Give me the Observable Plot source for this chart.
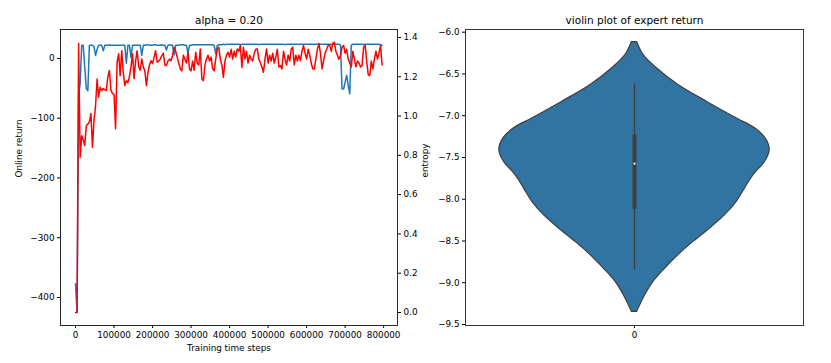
<!DOCTYPE html>
<html><head><meta charset="utf-8">
<script src="https://cdn.jsdelivr.net/npm/d3@7"></script>
<script src="https://cdn.jsdelivr.net/npm/@observablehq/plot@0.6"></script>
<style>
body{margin:0;background:#fff;}
#wrap{position:relative;width:831px;height:363px;overflow:hidden;background:#fff;}
#wrap svg{position:absolute;top:0;overflow:visible;}
</style></head><body><div id="wrap"></div>
<script>
// ---------- data ----------
const stepSize = 4000;
const onlineReturn = [
-377,-425,-60,-42,22,22,-15,-50,-54,22,
22,22,20,5,15,22,22,22,13,22,
22,22,23,22,22,22,22,22,22,22,
22,22,22,-8,22,22,2,22,22,22,
22,22,22,5,22,22,23,23,22,22,
22,23,23,22,22,22,23,22,22,14,
22,23,22,22,6,22,22,22,23,23,
23,22,22,8,22,22,23,23,23,23,
23,23,23,23,23,23,23,23,23,23,
22,8,22,23,23,23,24,23,24,24,
24,24,24,24,24,24,24,23,24,24,
24,24,24,24,24,24,24,24,24,23,
24,24,24,24,24,24,24,24,24,24,
24,24,24,24,24,24,23,24,24,24,
24,24,24,24,24,24,24,24,24,24,
24,24,24,24,24,24,24,24,24,24,
24,24,24,24,24,24,24,24,24,24,
24,24,22,-51,-51,-40,-28,-45,-59,22,
24,24,24,24,24,24,24,23,24,24,
24,24,24,24,24,24,24,24,23,22];
const entropy = [
0,0,1.369,0.79,0.90,0.88,0.85,0.95,0.96,0.97,
1.013,0.841,0.98,1.05,1.189,1.096,1.147,1.13,1.14,1.135,
1.13,1.20,1.232,1.13,1.115,1.11,0.935,1.274,1.317,1.206,
1.333,1.22,1.155,1.18,1.17,1.20,1.25,1.317,1.19,1.28,
1.333,1.25,1.233,1.29,1.25,1.23,1.155,1.22,1.26,1.282,
1.267,1.30,1.333,1.274,1.28,1.29,1.308,1.32,1.26,1.257,
1.28,1.29,1.282,1.31,1.35,1.33,1.30,1.27,1.24,1.23,
1.31,1.29,1.27,1.325,1.24,1.23,1.28,1.233,1.325,1.27,
1.26,1.342,1.19,1.18,1.26,1.29,1.31,1.28,1.30,1.242,
1.23,1.29,1.34,1.35,1.29,1.26,1.197,1.28,1.31,1.325,
1.30,1.34,1.29,1.33,1.30,1.342,1.33,1.359,1.248,1.35,
1.29,1.33,1.27,1.31,1.29,1.28,1.32,1.34,1.342,1.29,
1.27,1.25,1.223,1.29,1.342,1.27,1.31,1.28,1.32,1.27,
1.30,1.34,1.25,1.257,1.24,1.33,1.29,1.26,1.31,1.28,
1.34,1.35,1.26,1.31,1.28,1.31,1.282,1.33,1.359,1.32,
1.29,1.34,1.31,1.27,1.24,1.24,1.29,1.34,1.369,1.32,
1.24,1.28,1.32,1.34,1.36,1.36,1.33,1.37,1.376,1.33,
1.31,1.29,1.31,1.35,1.36,1.32,1.34,1.29,1.27,1.25,
1.33,1.29,1.25,1.28,1.27,1.25,1.257,1.35,1.36,1.28,
1.21,1.206,1.28,1.24,1.29,1.33,1.29,1.32,1.36,1.26];
const stepTicks = [0,100000,200000,300000,400000,500000,600000,700000,800000];
const returnTicks = [-400,-300,-200,-100,0];
const entropyTicks = [0,0.2,0.4,0.6,0.8,1.0,1.2,1.4];

// violin profile: value and relative half-width
const violinValue = [-6.12,-6.16,-6.272,-6.432,-6.632,-6.832,-7.031,-7.151,-7.271,-7.411,-7.552,-7.711,-7.870,-8.031,-8.191,-8.350,-8.511,-8.670,-8.830,-8.990,-9.150,-9.270,-9.31,-9.35];
const violinHalfWidth = [0.02,0.03,0.066,0.165,0.325,0.534,0.754,0.892,0.970,1.0,0.966,0.880,0.818,0.756,0.670,0.559,0.436,0.325,0.227,0.140,0.079,0.042,0.03,0.02];
const boxQ1 = -8.12, boxQ3 = -7.23, boxMedian = -7.575, whiskerLow = -8.85, whiskerHigh = -6.62;
const violinTicks = [-9.5,-9.0,-8.5,-8.0,-7.5,-7.0,-6.5,-6.0];
const violinCategories = [0];

const leftTitle = "alpha = 0.20";
const leftXLabel = "Training time steps";
const leftYLabel = "Online return";
const rightTitle = "violin plot of expert return";
const rightYLabel = "entropy";

// ---------- tables ----------
const returnData = onlineReturn.map((v, i) => ({step: i * stepSize, value: v}));
const entropyData = entropy.map((v, i) => ({step: i * stepSize, value: v}));
const violin = violinValue.map((v, i) => ({v, w: violinHalfWidth[i]}));

const style = {fontFamily: "DejaVu Sans", fontSize: "8.8px", color: "#000", background: "transparent", overflow: "visible"};
const dims = {width: 420, height: 363, marginLeft: 60, marginRight: 23, marginTop: 29, marginBottom: 38};
const xDomain = [-39000, 836000];
const fmtInt = d3.format("d");

const leftBase = Plot.plot({
  ...dims, style,
  x: {domain: xDomain},
  y: {domain: [-446.9, 48.5]},
  marks: [
    Plot.line(returnData, {x: "step", y: "value", stroke: "#1f77b4", strokeWidth: 1.5}),
    Plot.frame({stroke: "#111", strokeWidth: 0.9}),
    Plot.axisX({ticks: stepTicks, tickSize: 3, tickPadding: 3, tickFormat: fmtInt, label: null}),
    Plot.axisY({anchor: "left", ticks: returnTicks, tickSize: 3, tickPadding: 3, tickFormat: fmtInt, label: null}),
    Plot.text([leftTitle], {text: d => d, frameAnchor: "top", dy: -9, fontSize: 10.5, lineAnchor: "middle"}),
    Plot.text([leftXLabel], {text: d => d, frameAnchor: "bottom", dy: 23, lineAnchor: "middle"}),
    Plot.text([leftYLabel], {text: d => d, frameAnchor: "left", dx: -41, rotate: -90, lineAnchor: "middle"})
  ]
});
leftBase.style.left = "0px";

const leftTwin = Plot.plot({
  ...dims, style,
  x: {domain: xDomain, axis: null},
  y: {domain: [-0.0662, 1.4407]},
  marks: [
    Plot.line(entropyData, {x: "step", y: "value", stroke: "#ff0000", strokeWidth: 1.5}),
    Plot.axisY({anchor: "right", ticks: entropyTicks, tickSize: 3, tickPadding: 3, tickFormat: d3.format(".1f"), label: null})
  ]
});
leftTwin.style.left = "0px";

const right = Plot.plot({
  width: 411, height: 363, marginLeft: 45, marginRight: 28, marginTop: 29, marginBottom: 38,
  style,
  x: {domain: [-0.5, 0.5]},
  y: {domain: [-9.512, -5.968]},
  marks: [
    Plot.areaX(violin, {y: "v", x1: d => -0.4 * d.w, x2: d => 0.4 * d.w, fill: "#3274a1", stroke: "#3f3f3f", strokeWidth: 1.2, curve: "catmull-rom"}),
    Plot.ruleX(violinCategories, {x: d => d, y1: whiskerLow, y2: whiskerHigh, stroke: "#3f3f3f", strokeWidth: 1.4}),
    Plot.ruleX(violinCategories, {x: d => d, y1: boxQ1, y2: boxQ3, stroke: "#3f3f3f", strokeWidth: 4}),
    Plot.dot(violinCategories, {x: d => d, y: boxMedian, r: 1.1, fill: "#fff", stroke: null}),
    Plot.frame({stroke: "#222", strokeWidth: 0.9}),
    Plot.axisX({ticks: violinCategories, tickSize: 3, tickPadding: 3, tickFormat: d => String(d), label: null}),
    Plot.axisY({anchor: "left", ticks: violinTicks, tickSize: 3, tickPadding: 3, tickFormat: d3.format(".1f"), label: null}),
    Plot.text([rightTitle], {text: d => d, frameAnchor: "top", dy: -9, fontSize: 10.5, lineAnchor: "middle"}),
    Plot.text([rightYLabel], {text: d => d, frameAnchor: "left", dx: -40, rotate: -90, lineAnchor: "middle"})
  ]
});
right.style.left = "420px";

const wrap = document.getElementById("wrap");
wrap.appendChild(leftBase);
wrap.appendChild(leftTwin);
wrap.appendChild(right);
</script></body></html>
